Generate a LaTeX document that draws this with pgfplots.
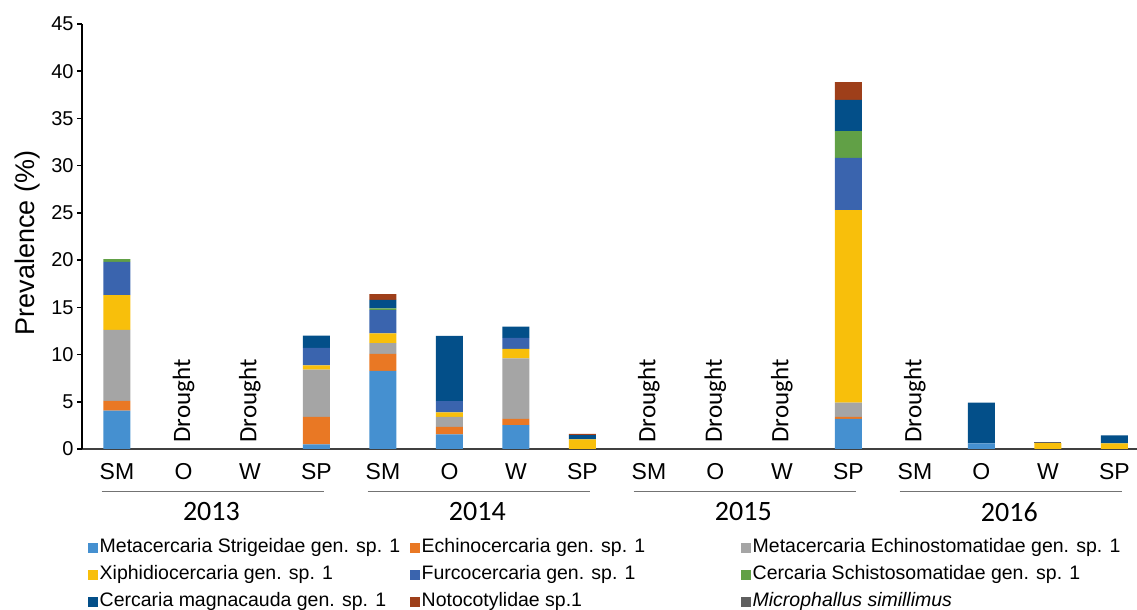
\documentclass[border=0pt]{standalone}
\usepackage{fontspec}
\setmainfont{Liberation Sans}
\newfontfamily\carlito{Carlito}
\usepackage{pgfplots}
\usepackage{pgfplotstable}
\pgfplotsset{compat=1.18}
\definecolor{cStrig}{HTML}{4590D0}
\definecolor{cEchino}{HTML}{E97824}
\definecolor{cMetaEch}{HTML}{A5A5A5}
\definecolor{cXiph}{HTML}{F8BF0B}
\definecolor{cFurco}{HTML}{3A64AE}
\definecolor{cSchisto}{HTML}{61A046}
\definecolor{cMagna}{HTML}{034F89}
\definecolor{cNoto}{HTML}{9E3F1A}
\definecolor{cMicro}{HTML}{5F5F5F}
\pgfplotstableread{
x Strig Echino MetaEch Xiph Furco Schisto Magna Noto Micro
0 4.05 1.05 7.5 3.7 3.5 0.3 0 0 0
1 0 0 0 0 0 0 0 0 0
2 0 0 0 0 0 0 0 0 0
3 0.5 2.9 5.0 0.45 1.85 0 1.3 0 0
4 8.26 1.8 1.14 1.05 2.45 0.2 0.9 0.6 0
5 1.55 0.8 1.06 0.46 1.2 0 6.9 0 0
6 2.54 0.66 6.4 1.0 1.16 0 1.2 0 0
7 0 0 0 1.03 0 0 0.45 0.12 0
8 0 0 0 0 0 0 0 0 0
9 0 0 0 0 0 0 0 0 0
10 0 0 0 0 0 0 0 0 0
11 3.2 0.2 1.5 20.4 5.53 2.82 3.32 1.87 0
12 0 0 0 0 0 0 0 0 0
13 0.6 0 0 0 0 0 4.3 0 0
14 0 0 0 0.62 0 0 0 0 0.12
15 0 0 0 0.6 0 0 0.85 0 0
}\datatable
\begin{document}
\begin{tikzpicture}
\path[use as bounding box] (0,0) rectangle (568.5pt,305pt);
\begin{axis}[
  at={(41pt,80.5pt)}, anchor=south west,
  scale only axis, width=527.5pt, height=212.5pt,
  xmin=-0.526, xmax=15.34, ymin=0, ymax=45,
  ybar stacked, bar width=13.5pt,
  axis lines*=left,
  x axis line style={draw=black!75, line width=1pt},
  y axis line style={line width=0.75pt},
  ytick={0,5,...,45},
  xtick={0,...,15},
  xticklabels={SM,O,W,SP,SM,O,W,SP,SM,O,W,SP,SM,O,W,SP},
  x tick style={draw=none},
  y tick style={line width=0.75pt, black},
  tick align=outside, major tick length=2.5pt,
  /pgf/number format/assume math mode=true,
  yticklabel style={font=\fontsize{10}{12}\selectfont, inner sep=0pt, xshift=-1.5pt},
  xticklabel style={font=\fontsize{11.5}{13}\selectfont, inner sep=0pt, yshift=-4.5pt},
  ylabel={Prevalence (\%)},
  ylabel style={font=\fontsize{13.5}{15}\selectfont, at={(axis description cs:-0.0512,0.485)}, anchor=center},
  clip=false,
  legend columns=3,
  legend cell align=left,
  legend image code/.code={\fill[#1] (0pt,-2.5pt) rectangle (5pt,2.5pt);},
  legend style={draw=none, fill=none, at={(0.005,-0.2097)}, anchor=north west,
    font=\fontsize{9.75}{11}\selectfont, inner sep=0pt, row sep=4.5pt,
    /tikz/every even column/.append style={column sep=0pt},
    nodes={inner xsep=1pt, inner ysep=0pt, text height=7pt, text depth=2pt}},
]
\addplot[fill=cStrig, draw=none] table[x=x,y=Strig]{\datatable};
\addlegendentry{\makebox[154pt][l]{Metacercaria Strigeidae gen. sp. 1}}
\addplot[fill=cEchino, draw=none] table[x=x,y=Echino]{\datatable};
\addlegendentry{\makebox[158.5pt][l]{Echinocercaria gen. sp. 1}}
\addplot[fill=cMetaEch, draw=none] table[x=x,y=MetaEch]{\datatable};
\addlegendentry{Metacercaria Echinostomatidae gen. sp. 1}
\addplot[fill=cXiph, draw=none] table[x=x,y=Xiph]{\datatable};
\addlegendentry{\makebox[154pt][l]{Xiphidiocercaria gen. sp. 1}}
\addplot[fill=cFurco, draw=none] table[x=x,y=Furco]{\datatable};
\addlegendentry{\makebox[158.5pt][l]{Furcocercaria gen. sp. 1}}
\addplot[fill=cSchisto, draw=none] table[x=x,y=Schisto]{\datatable};
\addlegendentry{Cercaria Schistosomatidae gen. sp. 1}
\addplot[fill=cMagna, draw=none] table[x=x,y=Magna]{\datatable};
\addlegendentry{\makebox[154pt][l]{Cercaria magnacauda gen. sp. 1}}
\addplot[fill=cNoto, draw=none] table[x=x,y=Noto]{\datatable};
\addlegendentry{\makebox[158.5pt][l]{Notocotylidae sp.1}}
\addplot[fill=cMicro, draw=none] table[x=x,y=Micro]{\datatable};
\addlegendentry{\textit{Microphallus simillimus}}

\pgfplotsinvokeforeach{1,2,8,9,10,12}{
  \node[rotate=90, anchor=west, inner sep=0pt, font=\carlito\fontsize{12.5}{14}\selectfont]
    at ([yshift=3pt]axis cs:#1,0) {Drought};
}
\draw[black!55, line width=0.5pt] ([yshift=-21.5pt]axis cs:-0.23,0) -- ([yshift=-21.5pt]axis cs:3.12,0);
\draw[black!55, line width=0.5pt] ([yshift=-21.5pt]axis cs:3.77,0) -- ([yshift=-21.5pt]axis cs:7.12,0);
\draw[black!55, line width=0.5pt] ([yshift=-21.5pt]axis cs:7.77,0) -- ([yshift=-21.5pt]axis cs:11.12,0);
\draw[black!55, line width=0.5pt] ([yshift=-21.5pt]axis cs:11.77,0) -- ([yshift=-21.5pt]axis cs:15.12,0);
\node[font=\carlito\fontsize{14}{16}\selectfont] at ([yshift=-31.5pt]axis cs:1.42,0) {2013};
\node[font=\carlito\fontsize{14}{16}\selectfont] at ([yshift=-31.5pt]axis cs:5.42,0) {2014};
\node[font=\carlito\fontsize{14}{16}\selectfont] at ([yshift=-31.5pt]axis cs:9.42,0) {2015};
\node[font=\carlito\fontsize{14}{16}\selectfont] at ([yshift=-31.5pt]axis cs:13.42,0) {2016};
\end{axis}
\end{tikzpicture}
\end{document}
